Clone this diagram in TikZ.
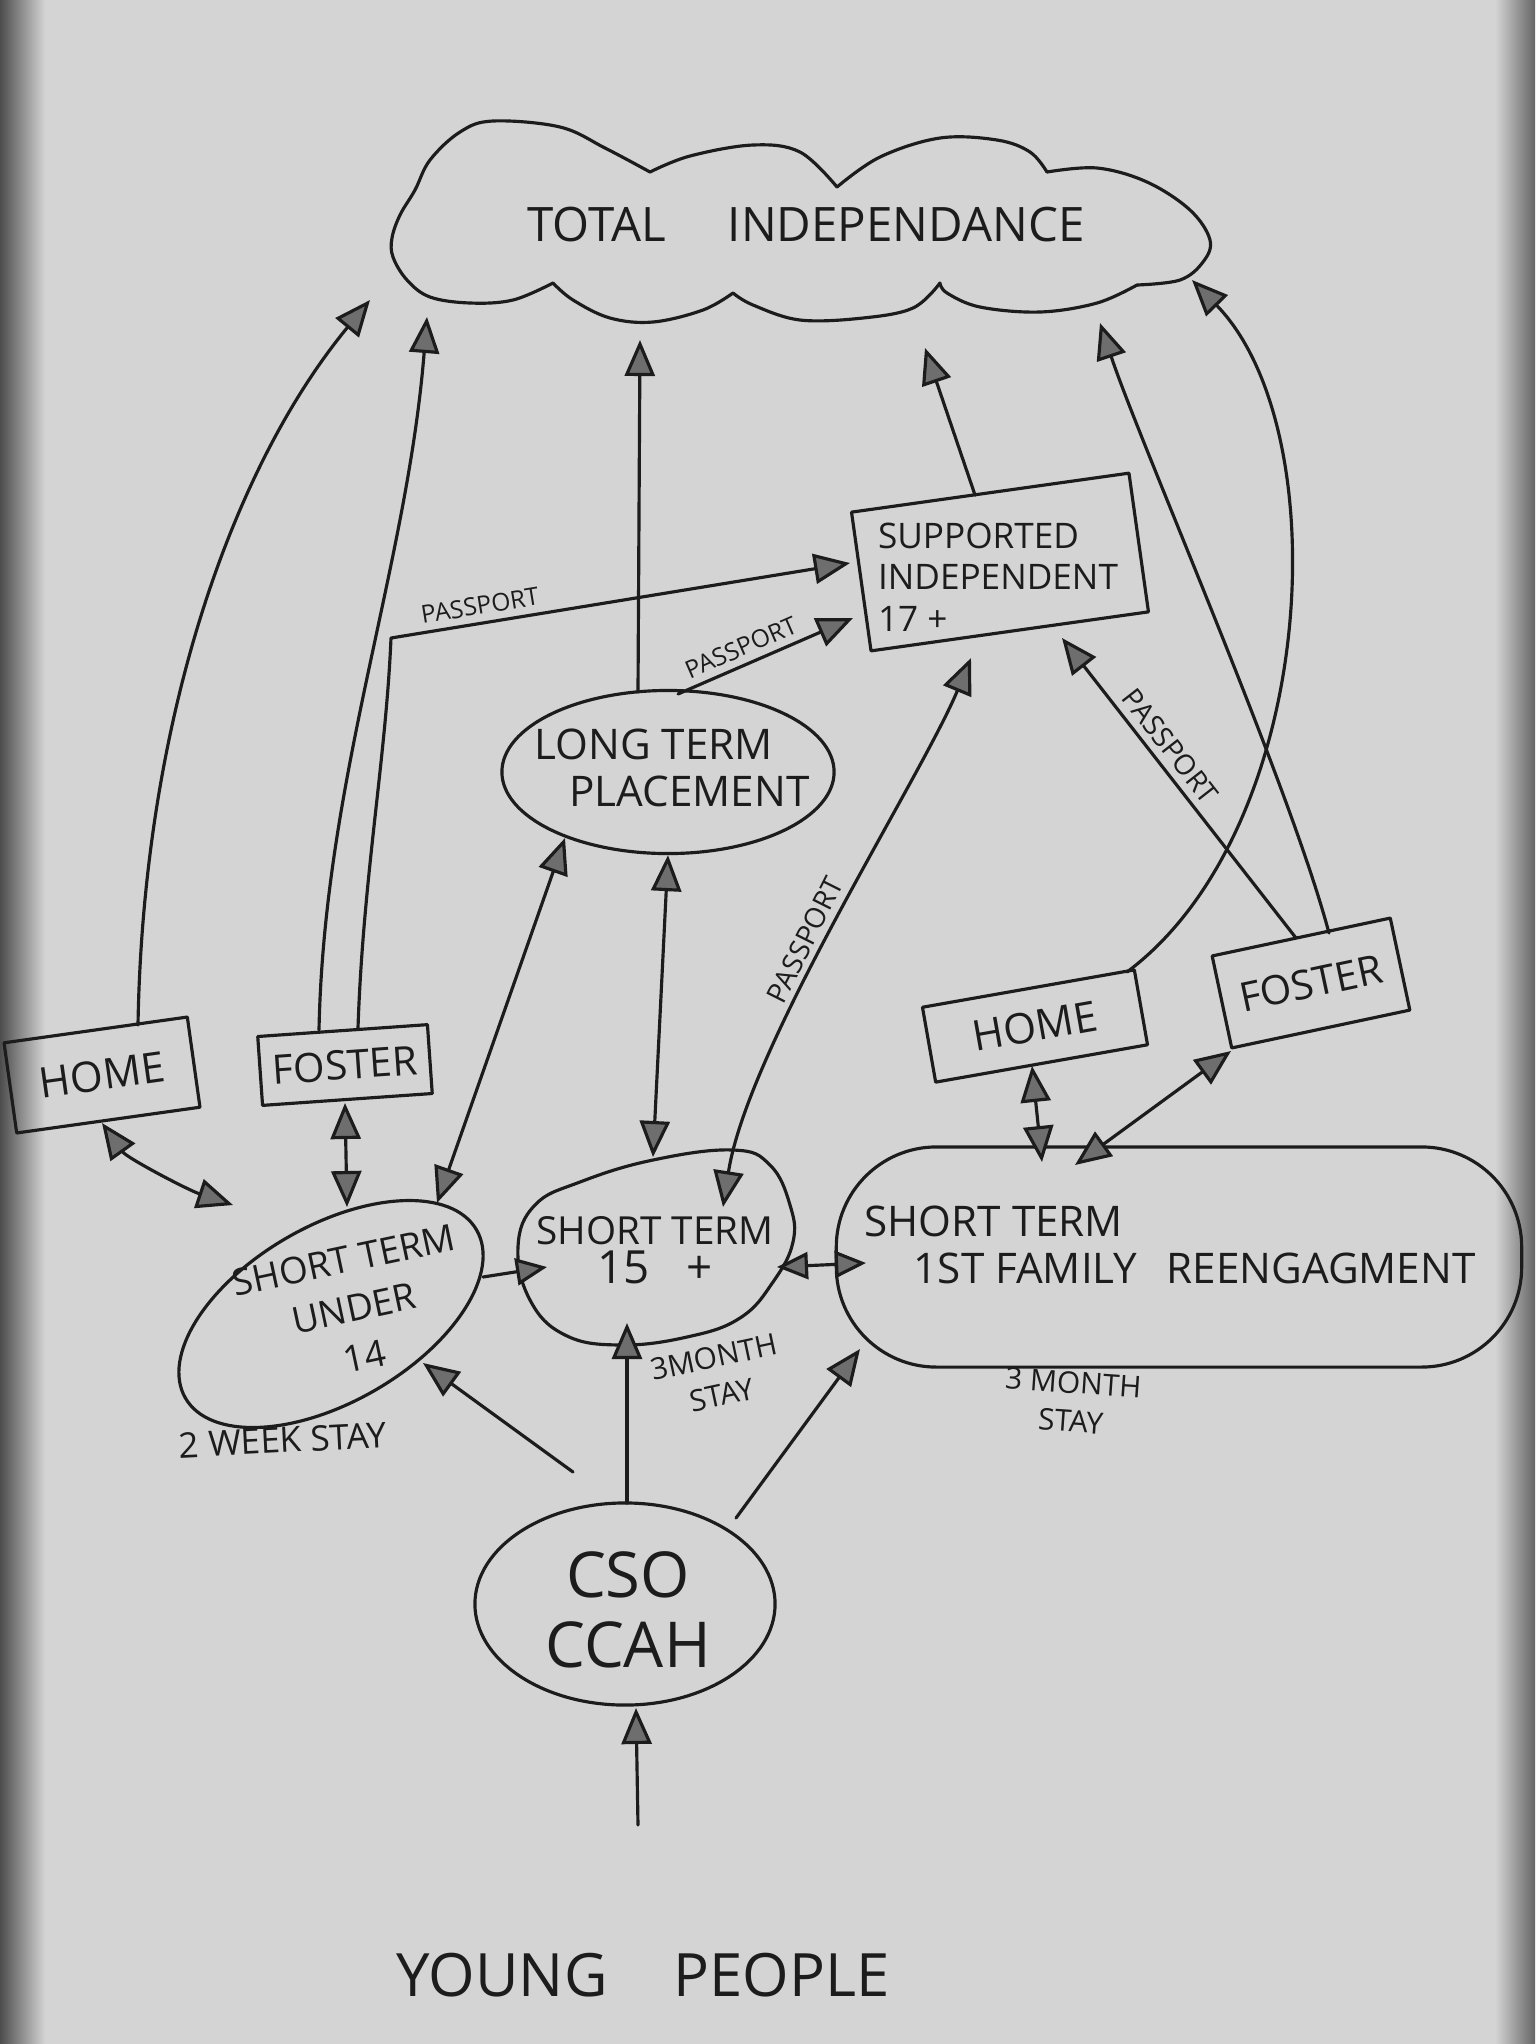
\documentclass[tikz,border=0pt]{standalone}
\usepackage{fontspec}
\setmainfont{Open Sans}
\usetikzlibrary{shapes.geometric,arrows.meta,calc}
\definecolor{paper}{RGB}{212,212,212}
\definecolor{inkc}{RGB}{28,28,28}
\definecolor{headc}{RGB}{110,110,110}
\begin{document}
\begin{tikzpicture}[x=0.01cm,y=-0.01cm,
  line/.style={draw=inkc,line width=0.9pt,line cap=round,line join=round},
  arr/.style={line,-{Triangle[length=3.6mm,width=3mm,fill=headc]}},
  rarr/.style={line,{Triangle[length=3.6mm,width=3mm,fill=headc]}-},
  dbl/.style={line,{Triangle[length=3.6mm,width=3mm,fill=headc]}-{Triangle[length=3.6mm,width=3mm,fill=headc]}},
  sdbl/.style={line,{Triangle[length=3.1mm,width=2.7mm,fill=headc]}-{Triangle[length=3.1mm,width=2.7mm,fill=headc]}},
  sarr/.style={line,-{Triangle[length=3.1mm,width=2.7mm,fill=headc]}},
  box/.style={line,rectangle,inner sep=2pt},
  blob/.style={line,ellipse,inner sep=0pt},
  txt/.style={text=inkc,inner sep=0pt},
  pass/.style={text=inkc,inner sep=2pt,font=\fontsize{7}{8}\selectfont},
  every node/.style={text=inkc}
]
\fill[paper] (0,0) rectangle (1535,2044);
\shade[left color=black!70, right color=paper] (0,0) rectangle (45,2044);
\shade[left color=paper, right color=black!60] (1495,0) rectangle (1535,2044);
\useasboundingbox (0,0) rectangle (1535,2044);

% ---------- TOTAL INDEPENDANCE cloud ----------
\draw[line] plot[smooth,tension=0.6] coordinates {(553,283) (513,300) (470,303) (430,297) (407,280) (393,257) (392,238) (400,215) (415,190) (430,160) (460,132) (493,121) (560,127) (605,148) (650,172)};
\draw[line] plot[smooth,tension=0.6] coordinates {(650,172) (690,156) (753,145) (800,152) (837,187)};
\draw[line] plot[smooth,tension=0.6] coordinates {(837,187) (880,157) (940,138) (997,140) (1030,152) (1047,172)};
\draw[line] plot[smooth,tension=0.6] coordinates {(1047,172) (1097,168) (1147,182) (1190,210) (1210,240) (1203,262) (1180,280) (1137,285)};
\draw[line] plot[smooth,tension=0.6] coordinates {(1137,285) (1097,303) (1040,312) (980,307) (947,293) (940,283)};
\draw[line] plot[smooth,tension=0.6] coordinates {(940,283) (913,308) (863,318) (800,320) (753,305) (733,293)};
\draw[line] plot[smooth,tension=0.6] coordinates {(733,293) (703,310) (653,322) (610,318) (573,300) (553,283)};
\node[txt,font=\fontsize{13.5}{15}\selectfont] (TI) at (806,225) {TOTAL\hspace{1.3em}INDEPENDANCE};

% ---------- other nodes ----------
\node[box,rotate=8,minimum width=2.8cm,minimum height=1.4cm] (SUP) at (1000,562) {};
\node[txt,align=left,font=\fontsize{10}{11.8}\selectfont] (SUPt) at (998,577) {SUPPORTED\\INDEPENDENT\\17 +};

\node[blob,minimum width=3.32cm,minimum height=1.63cm] (LT) at (668,772) {};
\node[txt,align=left,font=\fontsize{12}{13.5}\selectfont] (LTt) at (672,768) {LONG TERM\\\hspace*{10pt}PLACEMENT};

\node[box,rotate=8,minimum width=1.85cm,minimum height=0.91cm,font=\fontsize{12}{14}\selectfont] (HL) at (102,1075) {HOME};
\node[box,rotate=4,minimum width=1.7cm,minimum height=0.69cm,font=\fontsize{11.5}{14}\selectfont] (FL) at (345,1065) {FOSTER};
\node[box,rotate=10,minimum width=2.15cm,minimum height=0.76cm,font=\fontsize{12}{14}\selectfont] (HR) at (1035,1026) {HOME};
\node[box,rotate=12,minimum width=1.82cm,minimum height=0.94cm,font=\fontsize{11.5}{14}\selectfont] (FR) at (1311,983) {FOSTER};

\node[blob,rotate=30,minimum width=3.36cm,minimum height=1.76cm] (ST14) at (331,1314) {};
\node[txt,rotate=12,align=center,font=\fontsize{10.5}{14}\selectfont] (ST14t) at (354,1308) {SHORT TERM\\UNDER\\14};

\draw[line] plot[smooth cycle,tension=0.7] coordinates {(518,1247) (535,1205) (580,1182) (653,1160) (733,1150) (770,1165) (790,1205) (793,1242) (773,1282) (740,1318) (687,1337) (620,1345) (565,1335) (530,1300)};
\node[txt,align=center] (ST15) at (655,1250) {\fontsize{11}{12}\selectfont SHORT TERM\\[-1pt]\fontsize{13}{14}\selectfont 15\hspace{0.8em}+};

\node[line,rectangle,rounded corners=1cm,minimum width=6.85cm,minimum height=2.2cm,inner sep=0pt] (STF) at (1179,1257) {};
\node[txt,align=left,font=\fontsize{12}{13.5}\selectfont] (STFt) at (1170,1245) {SHORT TERM\\\hspace*{14pt}1ST FAMILY\hspace{0.7em}REENGAGMENT};

\node[blob,minimum width=3cm,minimum height=2.02cm] (CSO) at (625,1604) {};
\node[txt,align=center,font=\fontsize{18}{20}\selectfont] (CSOt) at (628,1610) {CSO\\CCAH};

\node[txt,font=\fontsize{17}{20}\selectfont] (YP) at (643,1975) {YOUNG\hspace{1.1em}PEOPLE};

\node[txt,rotate=3,font=\fontsize{10}{12}\selectfont] (L2w) at (283,1440) {2 WEEK STAY};
\node[txt,rotate=12,align=center,font=\fontsize{8.5}{11}\selectfont] (L3a) at (718,1376) {3MONTH\\STAY};
\node[txt,rotate=-4,align=center,font=\fontsize{8.5}{11}\selectfont] (L3b) at (1072,1402) {3 MONTH\\STAY};

\coordinate (bend) at (391,638);

% ---------- connectors to TOTAL INDEPENDANCE ----------
\draw[arr] ($(HL)+(36,-50)$) .. controls +(5,-300) and +(-140,170) .. ($(TI)+(-436,75)$);
\draw[arr] ($(FL)+(-26,-35)$) .. controls +(5,-250) and +(-20,250) .. ($(TI)+(-379,92)$);
\draw[arr] ($(LT)+(-30,-80)$) -- ($(TI)+(-166,115)$);
\draw[arr] ($(SUP)+(-25,-67)$) -- ($(TI)+(119,123)$);
\draw[arr] ($(FR)+(18,-50)$) .. controls +(-40,-150) and +(40,120) .. ($(TI)+(294,98)$);
\draw[arr] ($(HR)+(92,-54)$) .. controls +(191,-143) and +(146,150) .. ($(TI)+(386,55)$);

% ---------- passport connectors ----------
\draw[arr] ($(FL)+(13,-37)$) .. controls +(5,-150) and +(-5,120) .. (bend) -- node[pass,sloped,above,pos=0.2]{PASSPORT} ($(SUP)+(-150,1)$);
\draw[arr] ($(LT)+(10,-78)$) -- node[pass,sloped,above,pos=0.4]{PASSPORT} ($(SUP)+(-147,56)$);
\draw[dbl] ($(ST15)+(68,-43)$) .. controls +(25,-160) and +(-50,120) .. node[pass,sloped,above,pos=0.45,font=\fontsize{8}{9}\selectfont]{PASSPORT} ($(SUP)+(-29,96)$);
\draw[rarr] ($(SUP)+(62,76)$) -- node[pass,sloped,above,pos=0.4,font=\fontsize{8}{9}\selectfont]{PASSPORT} ($(FR)+(-15,-45)$);

% ---------- lower connectors ----------
\draw[dbl] (LT.south) -- ($(ST15)+(-2,-93)$);
\draw[dbl] ($(ST14)+(106,-111)$) -- ($(LT)+(-103,66)$);
\draw[dbl] ($(HL)+(0,48)$) .. controls +(25,35) and +(-45,-15) .. ($(ST14)+(-98,-109)$);
\draw[dbl] ($(FL)+(0,38)$) -- ($(ST14)+(16,-107)$);
\draw[sarr] ($(ST14)+(152,-37)$) -- ($(ST15)+(-108,17)$);
\draw[sdbl] ($(ST15)+(122,17)$) -- ($(STF)+(-313,6)$);
\draw[dbl] ($(HR)+(-3,40)$) -- ($(STF)+(-137,-95)$);
\draw[dbl] ($(FR)+(-80,68)$) -- ($(STF)+(-104,-92)$);
\draw[arr] ($(CSO)+(-52,-132)$) -- ($(ST14)+(92,49)$);
\draw[arr] ($(CSO)+(2,-101)$) -- ($(ST15)+(-28,73)$);
\draw[arr] ($(CSO)+(111,-86)$) -- ($(STF)+(-319,92)$);
\draw[arr] ($(YP)+(-5,-150)$) -- ($(CSO)+(11,104)$);
\end{tikzpicture}
\end{document}
